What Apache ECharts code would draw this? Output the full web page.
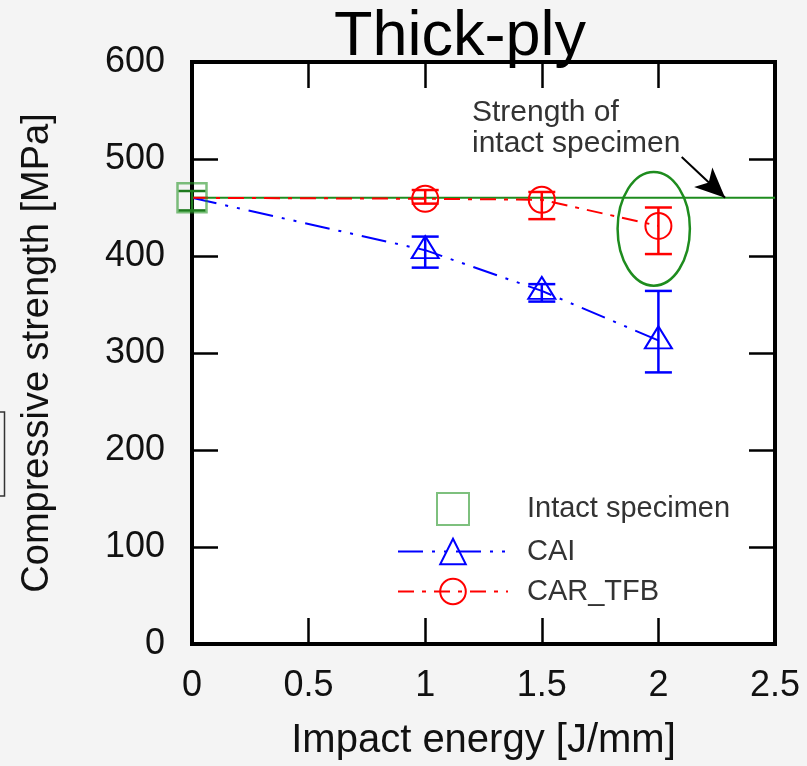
<!DOCTYPE html>
<html><head><meta charset="utf-8">
<script src="https://cdn.jsdelivr.net/npm/echarts@6/dist/echarts.min.js"></script>
<style>html,body{margin:0;padding:0;background:#f4f4f4}#c{width:807px;height:766px}</style>
</head><body><div id="c"></div>
<script>
// ---- data ----
const xTickValues = [0, 0.5, 1, 1.5, 2, 2.5];
const yTickValues = [0, 100, 200, 300, 400, 500, 600];
const intact = [[0, 460]];
const intactErr = [[0, 447, 467]];
const cai = [[0, 460], [1, 406], [1.5, 364], [2, 313]];
const caiErr = [[1, 388, 420], [1.5, 353, 371], [2, 280, 364]];
const car = [[0, 460], [1, 459], [1.5, 458], [2, 431]];
const carErr = [[1, 454, 468], [1.5, 438, 466], [2, 402, 450]];
const intactLevel = [[0, 460], [2.5, 460]];
const highlightEllipse = [[1.98, 428, 0.155, 58.6]]; // centre x, y, radius x, radius y (data units)
const arrowFromTo = [[2.10, 502], [2.286, 460]];
const titleText = 'Thick-ply';
const noteLines = ['Strength of', 'intact specimen'];

const FONT = '"Liberation Sans", Arial, Helvetica, sans-serif';
const GREEN = '#1e8c1e';
const SQ_GREEN = 'rgba(40,150,40,0.75)';

function errRender(color) {
  return function (params, api) {
    const x = api.value(0), lo = api.value(1), hi = api.value(2);
    const a = api.coord([x, lo]), b = api.coord([x, hi]);
    const w = 13.5;
    const st = { stroke: color, lineWidth: 2.5, fill: null };
    return { type: 'group', children: [
      { type: 'line', shape: { x1: a[0], y1: a[1], x2: b[0], y2: b[1] }, style: st },
      { type: 'line', shape: { x1: a[0] - w, y1: a[1], x2: a[0] + w, y2: a[1] }, style: st },
      { type: 'line', shape: { x1: b[0] - w, y1: b[1], x2: b[0] + w, y2: b[1] }, style: st }
    ]};
  };
}
function tick() { return { show: true, inside: true, length: 26, lineStyle: { color: '#000', width: 2.5 } }; }
function noLine() { return { show: false, onZero: false }; }

const chart = echarts.init(document.getElementById('c'), null, { renderer: 'canvas' });
chart.setOption({
  backgroundColor: '#f4f4f4',
  animation: false,
  textStyle: { fontFamily: FONT },
  grid: { left: 192, right: 32, top: 62, bottom: 120, show: true, backgroundColor: '#ffffff', borderColor: '#000', borderWidth: 4 },
  xAxis: [{
    type: 'value', min: 0, max: 2.5, interval: 0.5, position: 'bottom',
    name: 'Impact energy [J/mm]', nameLocation: 'middle', nameGap: 77,
    nameTextStyle: { fontSize: 40, color: '#111', fontFamily: FONT },
    axisLine: noLine(), splitLine: { show: false },
    axisTick: tick(),
    axisLabel: { fontSize: 36, color: '#111', margin: 24, fontFamily: FONT,
      formatter: v => xTickValues.indexOf(v) >= 0 ? String(v) : '' }
  }, {
    type: 'value', min: 0, max: 2.5, interval: 0.5, position: 'top',
    axisLine: noLine(), splitLine: { show: false }, axisLabel: { show: false },
    axisTick: tick()
  }],
  yAxis: [{
    type: 'value', min: 0, max: 600, interval: 100, position: 'left',
    name: 'Compressive strength [MPa]', nameLocation: 'middle', nameGap: 135,
    nameTextStyle: { fontSize: 38, color: '#111', fontFamily: FONT },
    axisLine: noLine(), splitLine: { show: false },
    axisTick: tick(),
    axisLabel: { fontSize: 36, color: '#111', margin: 27, fontFamily: FONT,
      formatter: v => yTickValues.indexOf(v) >= 0 ? String(v) : '' }
  }, {
    type: 'value', min: 0, max: 600, interval: 100, position: 'right',
    axisLine: noLine(), splitLine: { show: false }, axisLabel: { show: false },
    axisTick: tick()
  }],
  legend: {
    orient: 'vertical', left: 397, top: 492, padding: 0,
    itemWidth: 110, itemHeight: 32, itemGap: 11,
    data: [{ name: 'Intact specimen', icon: 'path://M0,0L10,0L10,10L0,10Z' }, 'CAI', 'CAR_TFB'],
    itemStyle: { borderWidth: 2 },
    textStyle: { fontSize: 29, color: '#333', fontFamily: FONT, padding: [0, 0, 0, 14] },
    selectedMode: false
  },
  graphic: [
    { type: 'text', x: 460, y: 6, style: { text: titleText, font: '63px ' + FONT, fill: '#000', textAlign: 'center', textVerticalAlign: 'top' } },
    { type: 'text', x: 472, y: 97, style: { text: noteLines.join('\n'), font: '30px ' + FONT, lineHeight: 31, fill: '#333', textAlign: 'left', textVerticalAlign: 'top' } },
    { type: 'rect', shape: { x: -10, y: 412, width: 14.5, height: 84 }, style: { fill: 'none', stroke: '#333', lineWidth: 1.5 } }
  ],
  series: [
    {
      name: 'level', type: 'line', data: intactLevel, symbol: 'none', silent: true,
      lineStyle: { color: GREEN, width: 2 }, z: 2,
      markLine: {
        silent: true, symbol: ['none', 'arrow'], symbolSize: [20, 30],
        label: { show: false },
        lineStyle: { color: '#000', width: 2, type: 'solid' },
        data: [[{ coord: arrowFromTo[0] }, { coord: arrowFromTo[1] }]]
      }
    },
    {
      name: 'ellipse', type: 'custom', data: highlightEllipse, clip: false, silent: true,
      encode: { x: 0, y: 1 },
      renderItem: function (params, api) {
        const c = api.coord([api.value(0), api.value(1)]);
        const s = api.size([api.value(2), api.value(3)]);
        return { type: 'ellipse', shape: { cx: c[0], cy: c[1], rx: s[0], ry: s[1] },
          style: { fill: null, stroke: GREEN, lineWidth: 2.5 } };
      }, z: 3
    },
    {
      name: 'CAI', type: 'line', clip: false,
      data: cai.map((d, i) => i === 0 ? { value: d, symbol: 'none' } : d),
      symbol: 'triangle', symbolSize: [27, 22], symbolOffset: [0, -3], showAllSymbol: true,
      lineStyle: { color: '#0000ff', width: 2, type: [25, 9, 3, 9, 3, 9] },
      itemStyle: { color: 'transparent', borderColor: '#0000ff', borderWidth: 2 }, z: 4
    },
    {
      name: 'CAR_TFB', type: 'line', clip: false,
      data: car.map((d, i) => i === 0 ? { value: d, symbol: 'none' } : d),
      symbol: 'circle', symbolSize: 26, showAllSymbol: true,
      lineStyle: { color: '#ff0000', width: 2, type: [16, 8, 4, 8] },
      itemStyle: { color: 'transparent', borderColor: '#ff0000', borderWidth: 2 }, z: 5
    },
    {
      name: 'Intact specimen', type: 'scatter', data: intact, clip: false,
      symbol: 'rect', symbolSize: 29,
      itemStyle: { color: 'transparent', borderColor: SQ_GREEN, borderWidth: 2.5 }, z: 6
    },
    { name: 'caiErr', type: 'custom', data: caiErr, encode: { x: 0, y: [1, 2] }, clip: false, silent: true, renderItem: errRender('#0000ff'), z: 4 },
    { name: 'carErr', type: 'custom', data: carErr, encode: { x: 0, y: [1, 2] }, clip: false, silent: true, renderItem: errRender('#ff0000'), z: 5 },
    { name: 'intactErr', type: 'custom', data: intactErr, encode: { x: 0, y: [1, 2] }, clip: false, silent: true, renderItem: errRender('#1e7a1e'), z: 6 }
  ]
});
</script></body></html>
